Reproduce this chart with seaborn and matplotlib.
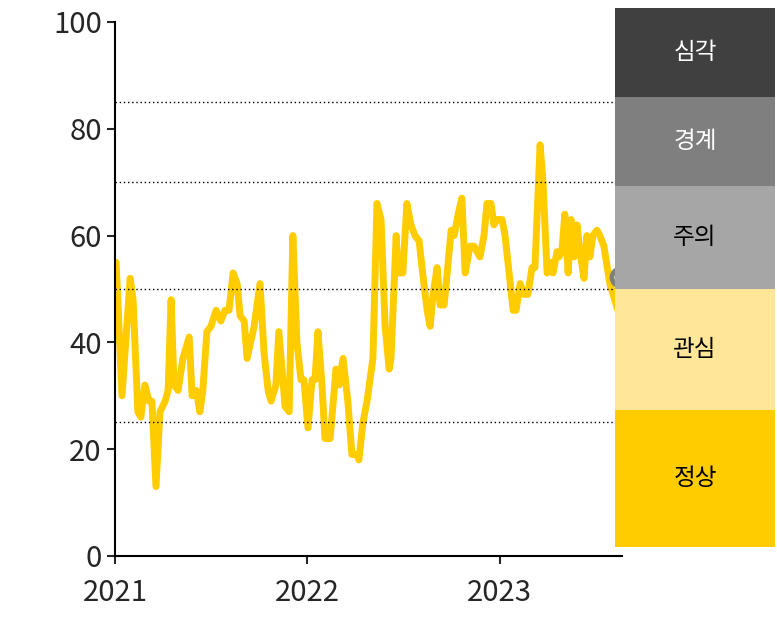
import numpy as np
import pandas as pd
import matplotlib
matplotlib.use("Agg")
import matplotlib.pyplot as plt
import seaborn as sns

# 주간 인덱스 (2021-01-01 기준 주차)와 지수 값
weeks = [0.3, 1.9, 4.1, 4.9, 6.2, 7.0, 8.1, 9.2, 10.0, 11.1, 12.2, 13.6, 14.4, 15.2, 16.0,
         17.1, 18.4, 20.1, 20.9, 22.0, 23.0, 23.8, 24.9, 26.0, 27.4, 28.7, 29.8, 30.9, 32.0,
         33.1, 33.9, 35.0, 35.8, 37.7, 39.3, 40.4, 41.5, 42.3, 43.6, 44.4, 46.1, 47.2, 48.2,
         49.3, 50.4, 51.2, 52.3, 53.4, 54.2, 55.0, 56.1, 56.9, 58.3, 59.9, 60.7, 61.8, 63.1,
         64.2, 65.6, 66.1, 67.2, 68.3, 69.9, 71.0, 72.1, 73.2, 74.3, 74.8, 76.2, 76.7, 78.0,
         79.1, 80.2, 81.3, 82.4, 83.7, 84.6, 85.4, 86.2, 87.3, 88.1, 89.2, 91.1, 91.9, 93.0,
         94.0, 94.9, 96.2, 97.3, 98.9, 100.0, 100.8, 101.9, 102.7, 103.5, 104.9, 105.7, 106.8,
         107.9, 108.7, 109.8, 110.8, 111.9, 113.0, 113.8, 115.2, 116.0, 117.1, 118.2, 118.7,
         119.8, 120.3, 121.1, 121.9, 122.8, 123.6, 124.4, 125.2, 126.0, 127.1, 127.9, 128.7,
         129.5, 130.6, 131.4, 132.5, 134.1, 136.3]
values = [55, 30, 52, 48, 27, 26, 32, 29, 29, 13, 27, 29, 31, 48, 32,
          31, 37, 41, 30, 31, 27, 31, 42, 43, 46, 44, 46, 46, 53,
          51, 45, 44, 37, 43, 51, 38, 31, 29, 32, 42, 28, 27, 60,
          40, 33, 33, 24, 33, 33, 42, 32, 22, 22, 35, 32, 37, 29,
          19, 19, 18, 25, 29, 37, 66, 63, 43, 35, 37, 60, 53, 53,
          66, 62, 60, 59, 51, 46, 43, 49, 54, 47, 47, 61, 60, 64,
          67, 53, 58, 58, 56, 60, 66, 66, 62, 63, 63, 60, 53,
          46, 46, 51, 49, 49, 54, 54, 77, 70, 53, 55, 53,
          57, 56, 57, 64, 53, 63, 56, 62, 57, 52, 60, 56,
          60, 61, 60, 58, 51, 46]

grey_pt = (136.9, 52.3)
red_pt = (140.1, 46.6)

thresholds = [25, 50, 70, 85]
year_labels = ["2021", "2022", "2023"]
year_weeks = [0, 365 / 7, 730 / 7]

stage_labels = ["정상", "관심", "주의", "경계", "심각"]
stage_heights = [137, 121, 103, 89, 89]
stage_colors = ["#ffcc00", "#ffe699", "#a6a6a6", "#7f7f7f", "#404040"]
stage_text = ["black", "black", "black", "white", "white"]

sns.set_style("white")
plt.rcParams["font.family"] = ["Noto Sans CJK KR", "DejaVu Sans"]

fig = plt.figure(figsize=(7.77, 6.3), dpi=100)
ax = fig.add_axes([0.148, 0.1175, 0.653, 0.8476])

df = pd.DataFrame({"week": weeks, "value": values})
sns.lineplot(data=df, x="week", y="value", ax=ax, color="#ffcc00", linewidth=5)

for t in thresholds:
    ax.axhline(t, color="black", linestyle=(0, (1, 2)), linewidth=1)

ax.scatter([grey_pt[0]], [grey_pt[1]], s=150, facecolor="white", edgecolor="#7f7f7f",
           linewidth=3.5, zorder=5, clip_on=False)
ax.scatter([red_pt[0]], [red_pt[1]], s=150, facecolor="white", edgecolor="red",
           linewidth=3.5, zorder=5, clip_on=False)

ax.set_xlim(0, 137.5)
ax.set_ylim(0, 100)
ax.set_xticks(year_weeks)
ax.set_xticklabels(year_labels)
ax.set_yticks([0, 20, 40, 60, 80, 100])
ax.tick_params(axis="both", labelsize=21, length=6, width=1.5, direction="out",
               left=True, bottom=True)
ax.tick_params(axis="x", pad=10)
ax.set_xlabel("")
ax.set_ylabel("")
for s in ["top", "right"]:
    ax.spines[s].set_visible(False)
for s in ["left", "bottom"]:
    ax.spines[s].set_color("black")
    ax.spines[s].set_linewidth(1.5)

# 오른쪽 단계 박스
ax2 = fig.add_axes([0.7915, 0.1317, 0.206, 0.8556])
bottoms = np.concatenate([[0], np.cumsum(stage_heights)[:-1]])
ax2.bar([0] * len(stage_labels), stage_heights, bottom=bottoms, width=1,
        color=stage_colors, edgecolor="none")
for lab, b, h, c in zip(stage_labels, bottoms, stage_heights, stage_text):
    ax2.text(0, b + h / 2, lab, ha="center", va="center", fontsize=17, color=c)
ax2.set_xlim(-0.5, 0.5)
ax2.set_ylim(0, sum(stage_heights))
ax2.axis("off")

fig.savefig("out.png", dpi=100)
